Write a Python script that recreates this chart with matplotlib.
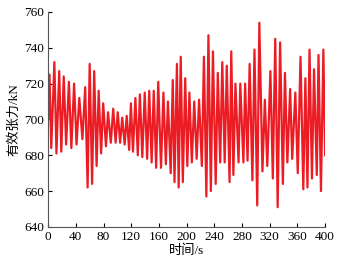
import numpy as np
import matplotlib
matplotlib.use('Agg')
import matplotlib.pyplot as plt

plt.rcParams['font.family'] = ['Liberation Serif', 'Noto Sans CJK SC']
plt.rcParams['font.size'] = 9.5

# peak / trough readings of the tension record (time s, tension kN)
t = [0, 2, 4.5, 9, 12, 16, 19, 22.5, 26, 30, 33.5, 37.5, 41, 45, 49.5,
     53.5, 57, 60, 63.5, 66.5, 70, 73, 76.5, 79.5, 83.5, 86.5, 90.5, 94,
     97.5, 100.5, 104, 107, 110.5, 113.5, 117, 119.5, 122.5, 126, 129.5,
     132.5, 136, 139.5, 143, 146, 149.5, 152.5, 156, 159, 163, 166.5, 170,
     173, 177, 180, 182.5, 186, 188.5, 191.5, 194.5, 198, 201, 204, 207.5,
     211, 214.5, 218, 222, 225, 228.5, 231.5, 235, 238, 242, 245, 248.5,
     251.5, 255, 258, 262, 264.5, 267.5, 270.5, 275, 277.5, 282, 284.5,
     288, 291, 295, 298, 302, 305, 309.5, 313, 316.5, 321, 324.5, 328,
     331.5, 335, 339, 342, 345.5, 349.5, 352.5, 357, 360.5, 364.5, 368.5,
     371.5, 374.5, 377.5, 381, 384, 388, 390.5, 394, 397.5, 400]
tension = [700, 725, 684, 732, 681, 727, 682, 724, 686, 721, 684, 720, 686,
           712, 689, 718, 662, 731, 664, 727, 674, 716, 681, 709, 685, 704,
           687, 706, 687, 704, 687, 701, 686, 702, 683, 709, 682, 712, 680,
           714, 679, 715, 678, 716, 676, 716, 673, 721, 673, 715, 675, 710,
           670, 722, 665, 731, 662, 735, 665, 723, 674, 715, 676, 710, 678,
           711, 674, 735, 657, 747, 660, 738, 664, 726, 676, 732, 676, 730,
           665, 738, 669, 720, 676, 720, 676, 720, 677, 731, 666, 739, 652,
           754, 671, 711, 674, 727, 667, 745, 651, 743, 664, 726, 676, 717,
           678, 715, 670, 735, 661, 723, 662, 739, 667, 728, 669, 736, 660,
           739, 680]

xticks = np.arange(0, 401, 40)
yticks = np.arange(640, 761, 20)

fig = plt.figure(figsize=(3.39, 2.66), dpi=100)
ax = fig.add_axes([0.142, 0.147, 0.817, 0.808])

ax.plot(t, tension, color='#ec1c24', lw=1.6)

ax.set_xlim(0, 400)
ax.set_ylim(640, 760)
ax.set_xticks(xticks)
ax.set_yticks(yticks)
ax.tick_params(direction='in', length=3, width=0.8, pad=3)

for s in ['top', 'right']:
  ax.spines[s].set_visible(False)
for s in ['left', 'bottom']:
  ax.spines[s].set_color('#555555')
  ax.spines[s].set_linewidth(0.8)

ax.set_xlabel('时间/s', labelpad=1)
ax.set_ylabel('有效张力/kN', labelpad=3)

fig.savefig('out.png', dpi=100)
